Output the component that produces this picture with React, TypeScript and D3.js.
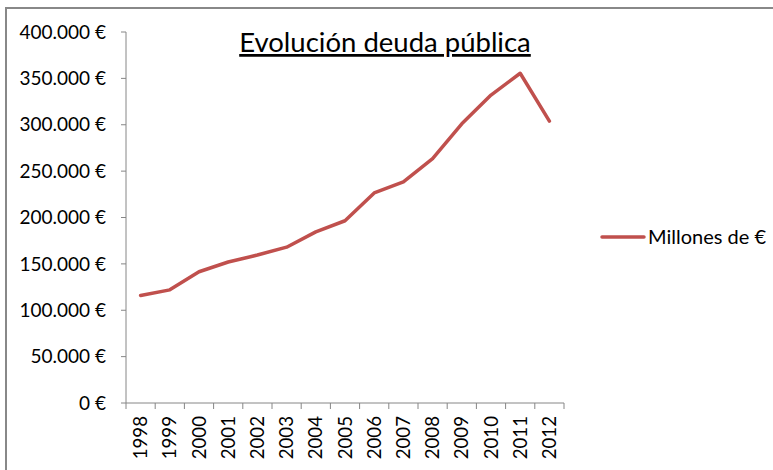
import React from "react";
import * as d3 from "d3";

const years = ["1998","1999","2000","2001","2002","2003","2004","2005","2006","2007","2008","2009","2010","2011","2012"];
const deuda = [116000,122000,141500,152000,159500,168000,184500,196500,226500,238500,263500,301000,332000,355500,304000];
const yTicks = [0,50000,100000,150000,200000,250000,300000,350000,400000];
const title = "Evolución deuda pública";
const seriesName = "Millones de €";

const W = 773, H = 470;
const FONT = "Lato, 'Open Sans', sans-serif";
const RED = "#C0504D";
const AXIS = "#868686";

const locale = d3.formatLocale({ decimal: ",", thousands: ".", grouping: [3], currency: ["", " €"] });
const fmt = (v: number) => locale.format(",.0f")(v) + " €";

export default function App() {
  const x = d3.scaleBand<string>().domain(years).range([126, 564]).padding(0);
  const y = d3.scaleLinear().domain([0, 400000]).range([403, 32]);
  const line = d3.line<number>()
    .x((_, i) => (x(years[i]) as number) + x.bandwidth() / 2)
    .y((d) => y(d));
  const boundaries = years.map((yr) => x(yr) as number).concat([x.range()[1]]);

  return (
    <svg width={W} height={H} style={{ position: "absolute", left: 0, top: 0, background: "#fff" }}>
      <rect x={0} y={0} width={W} height={H} fill="#fff" />
      {/* outer border */}
      <path d={`M6,${H + 5} L6,8 L${W + 5},8`} fill="none" stroke="#888" strokeWidth={2} />
      {/* title */}
      <text x={385} y={52} textAnchor="middle" fontFamily={FONT} fontSize={27.5} fill="#000" textDecoration="underline">{title}</text>
      {/* y axis */}
      <line x1={126} x2={126} y1={y(400000)} y2={y(0)} stroke={AXIS} strokeWidth={1} />
      {yTicks.map((t) => (
        <g key={t}>
          <line x1={121} x2={126} y1={y(t)} y2={y(t)} stroke={AXIS} />
          <text x={106} y={y(t)} dy="0.35em" textAnchor="end" fontFamily={FONT} fontSize={19} fill="#000">{fmt(t)}</text>
        </g>
      ))}
      {/* x axis */}
      <line x1={126} x2={564} y1={y(0)} y2={y(0)} stroke={AXIS} />
      {boundaries.map((b, i) => (
        <line key={i} x1={b} x2={b} y1={y(0)} y2={y(0) + 6} stroke={AXIS} />
      ))}
      {years.map((yr) => {
        const cx = (x(yr) as number) + x.bandwidth() / 2;
        return (
          <text key={yr} transform={`translate(${cx},416) rotate(-90)`} textAnchor="end" dy="0.35em" fontFamily={FONT} fontSize={18.7} fill="#000">{yr}</text>
        );
      })}
      {/* series */}
      <path d={line(deuda) || ""} fill="none" stroke={RED} strokeWidth={3.5} strokeLinejoin="round" strokeLinecap="round" />
      {/* legend */}
      <line x1={602} x2={644} y1={237} y2={237} stroke={RED} strokeWidth={3.5} strokeLinecap="round" />
      <text x={648} y={237} dy="0.35em" fontFamily={FONT} fontSize={20} fill="#000">{seriesName}</text>
    </svg>
  );
}
